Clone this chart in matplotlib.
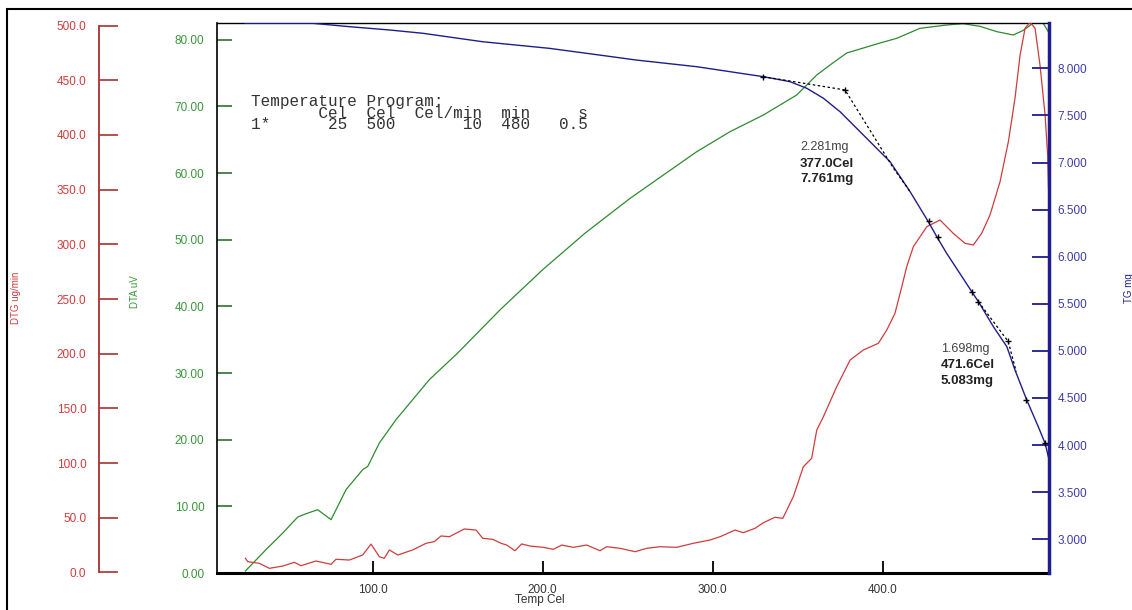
import matplotlib
matplotlib.use('Agg')
import matplotlib.pyplot as plt
from matplotlib.ticker import FormatStrFormatter
from matplotlib.patches import Rectangle

# DTA curve (uV) vs temperature (Cel)
temp_dta = [25.1, 37.2, 47.1, 55.9, 59.8, 67.6, 75.5, 84.3, 94.1, 97.1, 103.9, 113.7,
            123.5, 133.3, 150.0, 175.0, 200.0, 225.0, 251.4, 271.0, 290.6, 310.2,
            329.8, 349.4, 361.2, 369.0, 378.8, 398.4, 408.2, 421.9, 437.6, 447.2,
            457.2, 467.1, 476.8, 482.7, 488.6, 494.3, 497.4]
dta = [0.3, 3.5, 6.0, 8.4, 8.8, 9.5, 8.0, 12.5, 15.5, 16.0, 19.5, 23.0,
       26.0, 29.0, 33.0, 39.5, 45.5, 51.0, 56.2, 59.7, 63.2, 66.2,
       68.7, 71.7, 74.7, 76.2, 78.0, 79.5, 80.2, 81.7, 82.2, 82.4,
       82.0, 81.2, 80.7, 81.4, 82.5, 82.5, 81.2]

# DTG curve (ug/min)
temp_dtg = [25.1, 26.5, 33.3, 39.2, 47.1, 53.9, 57.8, 66.6, 75.5, 78.4, 86.2, 94.1,
            99.0, 103.9, 106.8, 109.8, 114.7, 123.5, 131.4, 136.2, 140.2, 145.1,
            153.9, 160.8, 164.7, 170.6, 175.5, 178.8, 183.7, 187.6, 192.5, 200.4,
            206.2, 211.2, 218.0, 225.9, 233.7, 237.6, 245.5, 254.3, 261.2, 269.0,
            278.8, 288.6, 298.4, 304.3, 313.1, 318.0, 324.9, 329.8, 336.6, 341.2,
            347.4, 353.3, 358.2, 361.2, 365.1, 372.9, 380.8, 388.6, 397.4, 402.4,
            407.2, 411.2, 414.1, 418.0, 425.9, 433.7, 441.5, 448.4, 453.3, 458.2,
            463.1, 469.0, 473.9, 477.8, 480.8, 483.7, 486.7, 489.6, 492.5, 495.5,
            497.0, 497.5]
dtg = [13.0, 9.9, 8.4, 3.8, 5.9, 9.3, 6.2, 10.5, 7.5, 12.1, 11.4, 16.0,
       26.0, 14.4, 13.0, 20.6, 16.0, 20.6, 26.7, 28.2, 33.4, 32.7,
       39.8, 38.8, 31.3, 30.3, 26.7, 25.1, 19.9, 26.1, 24.2, 23.0,
       21.2, 25.1, 23.0, 25.1, 19.9, 23.6, 22.1, 19.0, 22.1, 23.6,
       23.0, 26.7, 29.7, 32.7, 38.8, 36.4, 40.4, 45.5, 50.5, 49.5,
       69.3, 96.7, 104.4, 130.3, 142.4, 169.8, 194.2, 203.4, 209.5, 221.7,
       236.9, 261.2, 279.5, 297.8, 316.1, 322.2, 310.0, 300.9, 299.4, 310.0,
       326.8, 357.2, 393.8, 433.5, 473.0, 497.4, 503.0, 497.4, 463.9, 418.2,
       381.6, 351.5]

# TG curve (mg)
temp_tg = [25.0, 35.3, 64.7, 86.2, 109.8, 129.4, 164.7, 203.9, 233.3, 254.9, 290.6,
           329.8, 345.5, 355.3, 365.1, 374.9, 388.6, 404.3, 416.1, 426.8, 431.8,
           437.6, 452.4, 456.3, 465.1, 473.0, 477.8, 484.7, 491.5, 495.5, 497.4]
tg = [8.478, 8.478, 8.478, 8.442, 8.407, 8.372, 8.282, 8.212, 8.141, 8.088, 8.017,
      7.911, 7.858, 7.788, 7.682, 7.539, 7.292, 7.008, 6.690, 6.372, 6.212,
      6.036, 5.628, 5.522, 5.257, 5.045, 4.797, 4.479, 4.195, 4.019, 3.877]

# onset tangents and marks
tan1_t = [329.8, 377.8, 406.3, 416.1]
tan1_m = [7.911, 7.770, 6.94, 6.69]
tan2_t = [456.3, 473.8, 478.5]
tan2_m = [5.522, 5.10, 4.78]
mark_t = [329.8, 377.8, 427.4, 432.7, 452.4, 456.3, 473.8, 484.5, 495.5]
mark_m = [7.911, 7.770, 6.38, 6.21, 5.628, 5.522, 5.10, 4.48, 4.02]

x_ticks = [100, 200, 300, 400]
dta_ticks = [0, 10, 20, 30, 40, 50, 60, 70, 80]
dtg_ticks = [0, 50, 100, 150, 200, 250, 300, 350, 400, 450, 500]
tg_ticks = [3.0, 3.5, 4.0, 4.5, 5.0, 5.5, 6.0, 6.5, 7.0, 7.5, 8.0]

program_lines = [
    'Temperature Program:',
    '       Cel  Cel  Cel/min  min     s',
    '1*      25  500       10  480   0.5',
]

RED = '#d03c3c'
GREEN = '#3a963a'
BLUE = '#1e1e8c'
SANS = ['Liberation Sans', 'DejaVu Sans']

W, H = 1132, 610
fig = plt.figure(figsize=(W / 100, H / 100), dpi=100)
L, R, T, B = 217, 1049, 23, 573
ax = fig.add_axes([L / W, 1 - B / H, (R - L) / W, (B - T) / H])

# --- DTA (green, main axes)
ax.plot(temp_dta, dta, color='#2f8a2f', lw=0.9, zorder=2)
ax.set_xlim(8.4, 497.8)
ax.set_ylim(0.06, 82.5)
ax.set_yticks(dta_ticks)
ax.yaxis.set_major_formatter(FormatStrFormatter('%.2f'))
ax.tick_params(axis='y', direction='in', length=11, width=1.2, color='#2f6f2f',
               labelcolor=GREEN, labelsize=8.5, pad=9)
ax.set_xticks(x_ticks)
ax.xaxis.set_major_formatter(FormatStrFormatter('%.1f'))
ax.tick_params(axis='x', direction='in', length=9, width=1.3, color='black',
               labelcolor='#333333', labelsize=8.5, pad=8)
for lab in ax.get_xticklabels() + ax.get_yticklabels():
    lab.set_family(SANS)
ax.spines['right'].set_visible(False)
ax.spines['top'].set_linewidth(1.0)
ax.spines['left'].set_linewidth(1.2)
ax.spines['bottom'].set_linewidth(2.2)

# --- DTG (red, offset left axis)
ax_r = ax.twinx()
ax_r.plot(temp_dtg, dtg, color=RED, lw=0.9, zorder=2)
ax_r.set_ylim(-0.46, 502.3)
for s in ['top', 'bottom', 'right']:
    ax_r.spines[s].set_visible(False)
ax_r.spines['left'].set_visible(True)
ax_r.spines['left'].set_position(('axes', (99 - L) / (R - L)))
ax_r.spines['left'].set_bounds(0, 500)
ax_r.spines['left'].set_color('#a83232')
ax_r.spines['left'].set_linewidth(1.3)
ax_r.yaxis.set_ticks_position('left')
ax_r.set_yticks(dtg_ticks)
ax_r.yaxis.set_major_formatter(FormatStrFormatter('%.1f'))
ax_r.tick_params(axis='y', direction='in', length=14, width=1.2, color='#a83232',
                 labelcolor=RED, labelsize=8.5, pad=9)
for lab in ax_r.get_yticklabels():
    lab.set_family(SANS)

# --- TG (blue, right axis)
ax_b = ax.twinx()
ax_b.plot(temp_tg, tg, color=BLUE, lw=1.0, zorder=3)
ax_b.plot(tan1_t, tan1_m, color='black', lw=0.9, ls=(0, (2, 2)), zorder=4)
ax_b.plot(tan2_t, tan2_m, color='black', lw=0.9, ls=(0, (2, 2)), zorder=4)
ax_b.plot(mark_t, mark_m, ls='none', marker='+', ms=5, mew=1.0, color='black', zorder=5)
ax_b.set_ylim(2.642, 8.481)
for s in ['top', 'bottom', 'left']:
    ax_b.spines[s].set_visible(False)
ax_b.spines['right'].set_color(BLUE)
ax_b.spines['right'].set_linewidth(2.5)
ax_b.set_yticks(tg_ticks)
ax_b.yaxis.set_major_formatter(FormatStrFormatter('%.3f'))
ax_b.tick_params(axis='y', direction='in', length=12, width=1.3, color=BLUE,
                 labelcolor='#3c3ca8', labelsize=8.5, pad=6)
for lab in ax_b.get_yticklabels():
    lab.set_family(SANS)

# --- annotations
def fx(x):
    return x / W

def fy(y):
    return 1 - y / H

fig.text(fx(800), fy(147), '2.281mg', fontsize=9, color='#444444', family=SANS, va='center')
fig.text(fx(800), fy(164), '377.0Cel', fontsize=9.5, weight='bold', color='#222222', family=SANS, va='center')
fig.text(fx(800), fy(179), '7.761mg', fontsize=9.5, weight='bold', color='#222222', family=SANS, va='center')
fig.text(fx(941), fy(349), '1.698mg', fontsize=9, color='#444444', family=SANS, va='center')
fig.text(fx(941), fy(365), '471.6Cel', fontsize=9.5, weight='bold', color='#222222', family=SANS, va='center')
fig.text(fx(941), fy(381), '5.083mg', fontsize=9.5, weight='bold', color='#222222', family=SANS, va='center')

# temperature program block, one text in a monospace font
fig.text(fx(251), fy(113), '\n'.join(program_lines), fontsize=11.5, family='Liberation Mono',
         color='#333333', va='center', ha='left', linespacing=0.73)

# axis titles
fig.text(fx(16), fy(298), 'DTG ug/min', rotation=90, fontsize=7, color=RED, family=SANS,
         ha='center', va='center')
fig.text(fx(135), fy(292), 'DTA uV', rotation=90, fontsize=7, color=GREEN, family=SANS,
         ha='center', va='center')
fig.text(fx(1129), fy(288), 'TG mg', rotation=90, fontsize=7, color=BLUE, family=SANS,
         ha='center', va='center')
fig.text(fx(540), fy(600), 'Temp Cel', fontsize=8.5, color='#333333', family=SANS,
         ha='center', va='center')

# outer frame
fig.patches.append(Rectangle((fx(7), -0.05), 1.1, fy(9) + 0.05, transform=fig.transFigure,
                             fill=False, lw=1.5, ec='black'))

fig.savefig('out.png', dpi=100)
